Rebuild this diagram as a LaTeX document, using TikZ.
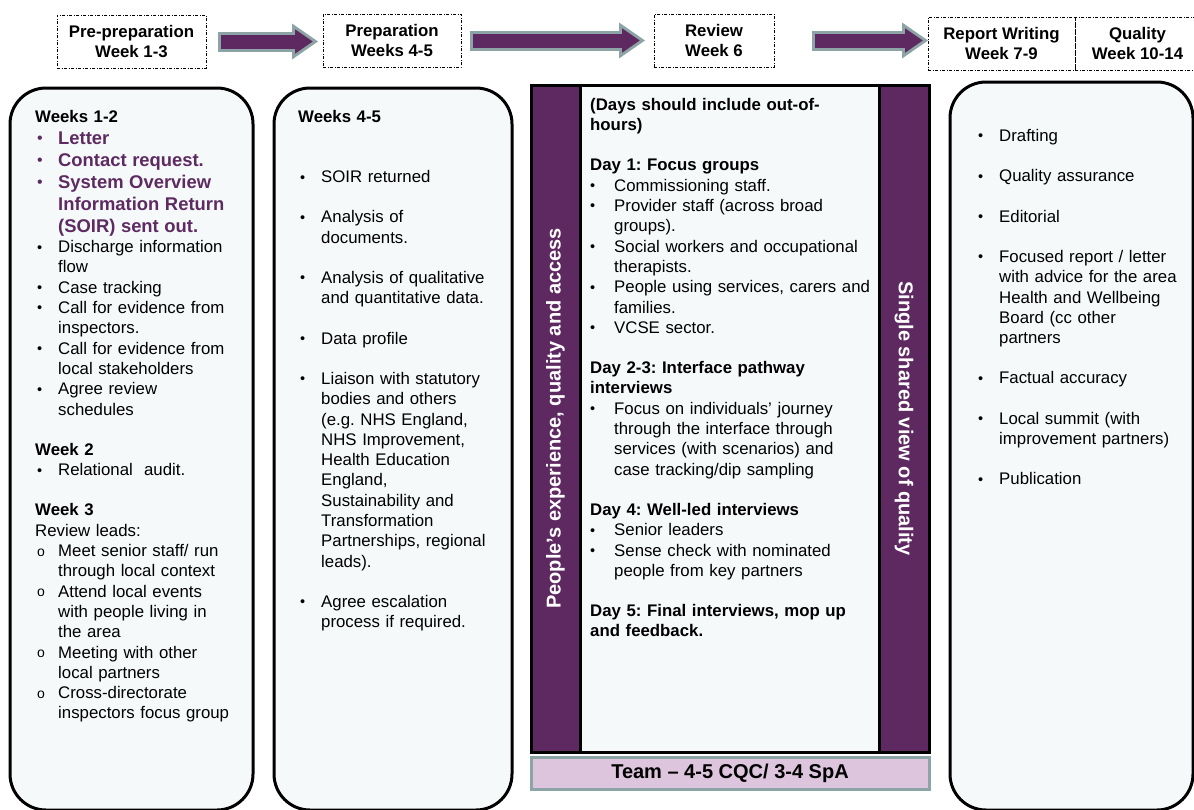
\documentclass[tikz,border=0pt]{standalone}
\usepackage{fontspec}
\setmainfont{Liberation Sans}
\usepackage{enumitem}
\usepackage{tikz}
\usetikzlibrary{arrows.meta,calc,positioning}
\definecolor{cqcpurple}{HTML}{5E2861}
\definecolor{keypurple}{HTML}{5E2A62}
\definecolor{arrowedge}{HTML}{8DA4A7}
\definecolor{teamfill}{HTML}{DCC5DD}
\definecolor{panelfill}{HTML}{F5F9FA}
\frenchspacing
\newcommand{\smallbul}{\raisebox{0.6pt}{\fontsize{14.5}{14.5}\selectfont\textbullet}}
\newcommand{\subbul}{\raisebox{0.3pt}{\fontsize{14}{14}\selectfont o}}
\setlist[itemize]{label=\smallbul, labelindent=2pt, labelwidth=18pt, labelsep=3pt, leftmargin=!, align=left,
  itemsep=0pt, parsep=0pt, topsep=0pt, partopsep=0pt}
\newcommand{\keyitem}[1]{\item[\color{keypurple}\raisebox{0.6pt}{\fontsize{16}{16}\selectfont\textbullet}]{\fontsize{18.4}{22}\selectfont\bfseries\color{keypurple}#1\par}}

\begin{document}
\begin{tikzpicture}[x=1pt, y=-1pt,
    phase/.style={draw, line width=0.8pt, dash pattern=on 3pt off 1.5pt on 1pt off 1.5pt, align=center,
      inner sep=0pt, outer sep=0pt, minimum height=53pt, font=\fontsize{16.8}{20}\selectfont\bfseries},
    panel/.style={draw, line width=3pt, fill=panelfill, rounded corners=36pt, minimum width=243pt, minimum height=722pt},
    listtext/.style={anchor=north west, inner sep=0pt, align=left, font=\fontsize{16.8}{20.3}\selectfont},
    band/.style={draw, line width=3pt, fill=cqcpurple, text=white, minimum width=667pt, minimum height=49pt,
      inner sep=0pt, font=\fontsize{20}{24}\selectfont\bfseries},
    flowedge/.style={line width=20pt, draw=arrowedge, -{Triangle[length=26pt, width=36pt, line width=0pt]}},
    flowfill/.style={line width=14pt, draw=cqcpurple, -{Triangle[length=17.7pt, width=24.5pt, line width=0pt]}}]
  \path[use as bounding box, fill=white] (0,0) rectangle (1194,809);

  % phase headers
  \node[phase, minimum width=149pt] (prepre) at (131.5,41.5) {Pre-preparation\\Week 1-3};
  \node[phase, minimum width=138pt] (prep) at (392,40.5) {Preparation\\Weeks 4-5};
  \node[phase, minimum width=120pt] (review) at (714,40.5) {Review\\Week 6};
  \node[phase, minimum width=147pt] (report) at (1001.5,43.5) {Report Writing\\Week 7-9};
  \node[phase, minimum width=125pt, right=0pt of report] (quality) {Quality\\Week 10-14};

  \draw[flowedge, shorten <=12pt, shorten >=5pt] (prepre.east) -- (prepre.east -| prep.west);
  \draw[flowfill, shorten <=15pt, shorten >=10.3pt] (prepre.east) -- (prepre.east -| prep.west);
  \draw[flowedge, shorten <=9pt, shorten >=9pt] (prep.east) -- (prep.east -| review.west);
  \draw[flowfill, shorten <=12pt, shorten >=14.3pt] (prep.east) -- (prep.east -| review.west);
  \draw[flowedge, shorten <=38pt, shorten >=0pt] (review.east) -- (review.east -| report.west);
  \draw[flowfill, shorten <=41pt, shorten >=5.3pt] (review.east) -- (review.east -| report.west);

  % panels
  \node[panel] (prebox) at (131.5,449) {};
  \node[panel, minimum width=238pt] (prepbox) at (393,449) {};
  \node[panel, minimum height=728pt] (reportbox) at (1071.5,446) {};
  \node[draw, line width=3pt, fill=panelfill, minimum width=398pt, minimum height=667pt] (reviewbox) at (730,418.5) {};
  \node[band, rotate=90] (expband) at (555.5,418.5) {People’s experience, quality and access};
  \node[band, rotate=-90, minimum height=50pt] (qualband) at (904,418.5) {Single shared view of quality};
  \node[draw=arrowedge, line width=3pt, fill=teamfill, minimum width=398pt, minimum height=32pt,
    font=\fontsize{20}{24}\selectfont\bfseries] (team) at (730,773) {Team -- 4-5 CQC/ 3-4 SpA};

  % panel texts
  \node[listtext, text width=220pt] (pretext) at (35,110) {%
    \textbf{Weeks 1-2}
    \begin{itemize}
      \keyitem{Letter}
      \keyitem{Contact request.}
      \keyitem{System Overview\\Information Return\\(SOIR) sent out.}
      \item Discharge information\\flow
      \item Case tracking
      \item Call for evidence from\\inspectors.
      \item Call for evidence from\\local stakeholders
      \item Agree review\\schedules
    \end{itemize}
    \vspace{20pt}
    \textbf{Week 2}
    \begin{itemize}
      \item Relational\ \ audit.
    \end{itemize}
    \vspace{20pt}
    \textbf{Week 3}\\
    Review leads:
    \begin{itemize}[label=\subbul]
      \item Meet senior staff/ run\\through local context
      \item Attend local events\\with people living in\\the area
      \item Meeting with other\\local partners
      \item Cross-directorate\\inspectors focus group
    \end{itemize}};

  \node[listtext, text width=215pt] (preptext) at (298,110) {%
    \textbf{Weeks 4-5}\par
    \vspace{40pt}
    \begin{itemize}[itemsep=20pt]
      \item SOIR returned
      \item Analysis of\\documents.
      \item Analysis of qualitative\\and quantitative data.
      \item Data profile
      \item Liaison with statutory\\bodies and others\\(e.g. NHS England,\\NHS Improvement,\\Health Education\\England,\\Sustainability and\\Transformation\\Partnerships, regional\\leads).
      \item Agree escalation\\process if required.
    \end{itemize}};

  \node[listtext, text width=288pt] (reviewtext) at (590,98) {%
    \textbf{(Days should include out-of-\\hours)}\par
    \vspace{20pt}
    \textbf{Day 1: Focus groups}
    \begin{itemize}[labelindent=0pt, labelsep=6pt]
      \item Commissioning staff.
      \item Provider staff (across broad\\groups).
      \item Social workers and occupational\\therapists.
      \item People using services, carers and\\families.
      \item VCSE sector.
    \end{itemize}
    \vspace{20pt}
    \textbf{Day 2-3: Interface pathway\\interviews}
    \begin{itemize}[labelindent=0pt, labelsep=6pt]
      \item Focus on individuals’ journey\\through the interface through\\services (with scenarios) and\\case tracking/dip sampling
    \end{itemize}
    \vspace{20pt}
    \textbf{Day 4: Well-led interviews}
    \begin{itemize}[labelindent=0pt, labelsep=6pt]
      \item Senior leaders
      \item Sense check with nominated\\people from key partners
    \end{itemize}
    \vspace{20pt}
    \textbf{Day 5: Final interviews, mop up\\and feedback.}};

  \node[listtext, text width=215pt] (reporttext) at (976,121) {%
    \begin{itemize}[itemsep=20pt]
      \item Drafting
      \item Quality assurance
      \item Editorial
      \item Focused report / letter\\with advice for the area\\Health and Wellbeing\\Board (cc other\\partners
      \item Factual accuracy
      \item Local summit (with\\improvement partners)
      \item Publication
    \end{itemize}};
\end{tikzpicture}
\end{document}
